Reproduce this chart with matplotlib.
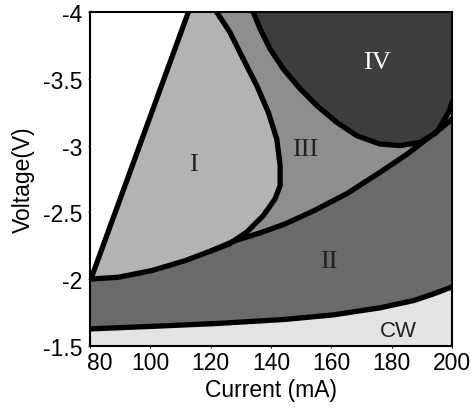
import numpy as np
import matplotlib.pyplot as plt
import matplotlib.transforms as mtransforms

# boundary curves (current in mA, voltage in V)
cw_i = [80, 100.5, 122.5, 144.6, 160.6, 176.1, 187.2, 193.8, 200]
cw_v = [-1.627, -1.646, -1.668, -1.698, -1.732, -1.785, -1.839, -1.889, -1.942]

ii_top_i = [80, 89.4, 100.5, 111.5, 120.3, 128.1, 136.9, 144.6, 154.0,
            165.1, 176.1, 185.0, 190.5, 196.0, 200]
ii_top_v = [-2.0, -2.014, -2.064, -2.138, -2.213, -2.288, -2.350, -2.413, -2.510,
            -2.640, -2.800, -2.935, -3.030, -3.124, -3.20]
junction = 4  # index where region I's right edge meets the II boundary

i_right_i = [122.0, 126.4, 130.8, 135.3, 139.1, 141.9, 143.0, 143.0, 141.3,
             137.4, 131.9, 126.0, 120.3]
i_right_v = [-4.0, -3.848, -3.648, -3.448, -3.249, -3.049, -2.850, -2.700, -2.600,
             -2.475, -2.351, -2.262, -2.213]

i_left_i = [80.3, 112.6]
i_left_v = [-2.0, -4.0]

iv_i = [134.1, 136.4, 139.7, 144.1, 149.7, 155.2, 161.8, 168.4, 176.1,
        182.8, 189.4, 194.9, 198.8, 200]
iv_v = [-4.0, -3.873, -3.723, -3.573, -3.424, -3.299, -3.174, -3.074, -3.012,
        -3.0, -3.025, -3.1, -3.249, -3.324]

labels = ["I", "II", "III", "IV", "CW"]
label_i = [114.2, 159.0, 151.3, 175.0, 182.2]
label_v = [-2.862, -2.138, -2.975, -3.624, -1.614]

colors = {"I": "#b3b3b3", "II": "#6a6a6a", "III": "#8e8e8e", "IV": "#3d3d3d", "CW": "#e3e3e3"}

plt.rcParams['font.family'] = ['Liberation Sans', 'DejaVu Sans']

fig = plt.figure(figsize=(4.71, 4.10), dpi=100)
ax = fig.add_axes([0.191, 0.154, 0.769, 0.814])
x0, x1, ytop, ybot = 80, 200, -4, -1.5

# CW region (below the CW line)
ax.fill(cw_i + [x1, x0], cw_v + [ybot, ybot], color=colors["CW"], lw=0)
# region II (between CW line and II top)
ax.fill(ii_top_i + cw_i[::-1], ii_top_v + cw_v[::-1], color=colors["II"], lw=0)
# region III (right of I, above II; IV painted over it)
ax.fill(i_right_i + ii_top_i[junction + 1:] + [x1],
        i_right_v + ii_top_v[junction + 1:] + [ytop], color=colors["III"], lw=0)
# region IV
ax.fill(iv_i + [x1], iv_v + [ytop], color=colors["IV"], lw=0)
# region I
ax.fill(i_left_i + i_right_i + ii_top_i[:junction][::-1],
        i_left_v + i_right_v + ii_top_v[:junction][::-1], color=colors["I"], lw=0)

# thick black boundaries
for xs, ys in [(cw_i, cw_v), (ii_top_i, ii_top_v), (i_right_i, i_right_v),
               (i_left_i, i_left_v), (iv_i, iv_v)]:
    ax.plot(xs, ys, color="black", lw=3.8, solid_joinstyle="round", solid_capstyle="round")

for lab, li, lv in zip(labels, label_i, label_v):
    if lab == "CW":
        ax.text(li, lv, lab, fontsize=16, ha="center", va="center", color="#222222")
    else:
        ax.text(li, lv, lab, fontsize=19, ha="center", va="center",
                family=["Liberation Serif", "DejaVu Serif"],
                color="white" if lab == "IV" else "#222222")

ax.set_xlim(x0, x1)
ax.set_ylim(ybot, ytop)
ax.set_xticks([80, 100, 120, 140, 160, 180, 200])
ax.set_yticks([-1.5, -2, -2.5, -3, -3.5, -4])
ax.set_yticklabels(["-1.5", "-2", "-2.5", "-3", "-3.5", "-4"])
ax.tick_params(labelsize=16.5, direction="out", length=1.5)
ax.tick_params(axis="x", pad=2)
ax.tick_params(axis="y", pad=4)
ax.set_xlabel("Current (mA)", fontsize=16.5, labelpad=3)
ax.set_ylabel("Voltage(V)", fontsize=16.5, labelpad=6)
for s in ax.spines.values():
    s.set_linewidth(1.5)

# the first current label sits a little right of its tick, clear of "-1.5"
first = ax.xaxis.get_major_ticks()[0].label1
first.set_horizontalalignment("left")
first.set_transform(first.get_transform()
                    + mtransforms.ScaledTranslation(-0.03, 0, fig.dpi_scale_trans))

fig.savefig("out.png", dpi=100)
